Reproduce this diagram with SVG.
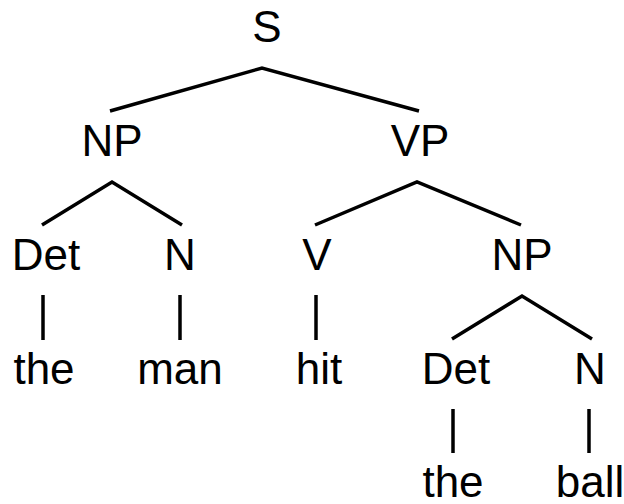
<svg xmlns="http://www.w3.org/2000/svg" width="624" height="504" viewBox="0 0 624 504">
  <style>
    .lbl { font-family: "Liberation Sans", Arial, sans-serif; font-size: 44px; fill: #000; text-anchor: middle; }
    .edge { stroke: #000; stroke-width: 3.5; fill: none; stroke-linecap: butt; stroke-linejoin: miter; }
  </style>
  <rect width="624" height="504" fill="#fff"/>
  <g id="connectors">
    <polyline class="edge" points="110,111 262,68 419,111"/>
    <polyline class="edge" points="42,225 112,182 182,225"/>
    <polyline class="edge" points="315,225 417,182 521,225"/>
    <polyline class="edge" points="452,339 522,296 592,339"/>
    <line class="edge" x1="43" y1="295" x2="43" y2="340"/>
    <line class="edge" x1="180" y1="295" x2="180" y2="340"/>
    <line class="edge" x1="316" y1="295" x2="316" y2="340"/>
    <line class="edge" x1="453" y1="409" x2="453" y2="453"/>
    <line class="edge" x1="589" y1="409" x2="589" y2="453"/>
  </g>
  <g id="n-s"><text class="lbl" x="267" y="42">S</text></g>
  <g id="n-np1"><text class="lbl" x="112" y="156">NP</text></g>
  <g id="n-vp"><text class="lbl" x="420" y="156">VP</text></g>
  <g id="n-det1"><text class="lbl" x="46" y="270">Det</text></g>
  <g id="n-n1"><text class="lbl" x="180" y="270">N</text></g>
  <g id="n-v"><text class="lbl" x="317" y="270">V</text></g>
  <g id="n-np2"><text class="lbl" x="522" y="270">NP</text></g>
  <g id="n-the1"><text class="lbl" x="44" y="384">the</text></g>
  <g id="n-man"><text class="lbl" x="180" y="384">man</text></g>
  <g id="n-hit"><text class="lbl" x="319" y="384">hit</text></g>
  <g id="n-det2"><text class="lbl" x="456" y="384">Det</text></g>
  <g id="n-n2"><text class="lbl" x="590" y="384">N</text></g>
  <g id="n-the2"><text class="lbl" x="453" y="497">the</text></g>
  <g id="n-ball"><text class="lbl" x="590" y="497">ball</text></g>
</svg>
